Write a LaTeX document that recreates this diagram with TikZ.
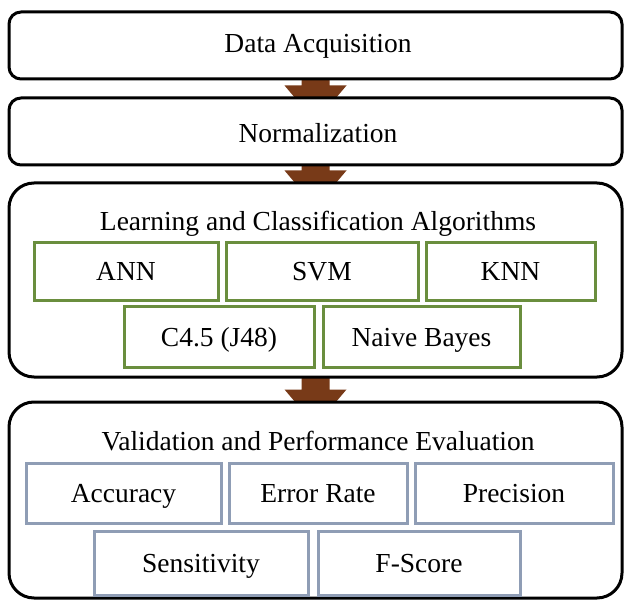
\documentclass[tikz,border=0pt]{standalone}
\usepackage{fontspec}
\setmainfont{Liberation Serif}
\usetikzlibrary{calc}
\pgfdeclarelayer{bg}
\pgfsetlayers{bg,main}
\definecolor{arrbrown}{RGB}{120,58,24}
\definecolor{algogreen}{RGB}{106,142,62}
\definecolor{evalgrey}{RGB}{143,157,181}
\tikzset{
  txt/.style={font=\fontsize{27.5}{30}\selectfont, text height=21pt, text depth=3pt},
  stage/.style={draw=black, line width=3pt, fill=white, rounded corners=#1, inner sep=0pt},
  algo/.style={txt, draw=algogreen, line width=3pt, fill=white, inner sep=0pt, minimum height=58pt},
  evalbox/.style={txt, draw=evalgrey, line width=3pt, fill=white, inner sep=0pt},
  lbl/.style={txt, inner sep=0pt},
  flowarrow/.style={fill=arrbrown, draw=none}
}
% unitless offsets follow the picture's axes (y grows downward)
\newcommand{\fatarrow}[2]{%
  \begin{pgfonlayer}{bg}
  \fill[flowarrow] ($(#1.south)+(-14,-2)$) -- ($(#2.north)+(-14,-11)$) -- ($(#2.north)+(-31,-11)$)
     -- ($(#2.north)+(-20,2)$) -- ($(#2.north)+(20,2)$) -- ($(#2.north)+(31,-11)$)
     -- ($(#2.north)+(14,-11)$) -- ($(#1.south)+(14,-2)$) -- cycle;
  \end{pgfonlayer}}
\begin{document}
\begin{tikzpicture}[x=1pt,y=-1pt]
\useasboundingbox (0,0) rectangle (626,601);
% stages
\node[stage=12pt, minimum width=613pt, minimum height=67pt] (da) at (315.5,45.5) {};
\node[stage=12pt, minimum width=613pt, minimum height=67pt] (nm) at (315.5,131.5) {};
\node[stage=25pt, minimum width=613pt, minimum height=194pt] (la) at (315.5,280) {};
\node[stage=25pt, minimum width=613pt, minimum height=196pt] (ve) at (315.5,500) {};
% titles
\node[lbl] (tda) at (318,44) {Data Acquisition};
\node[lbl] (tnm) at (318,134) {Normalization};
\node[lbl] (tla) at (318,222) {Learning and Classification Algorithms};
\node[lbl] (tve) at (318,441) {Validation and Performance Evaluation};
% algorithms
\node[algo, minimum width=184pt] (ann) at (126,272) {ANN};
\node[algo, minimum width=192pt] (svm) at (322,272) {SVM};
\node[algo, minimum width=169pt] (knn) at (510.5,272) {KNN};
\node[algo, minimum width=190pt, minimum height=60pt] (c45) at (219,337) {C4.5 (J48)};
\node[algo, minimum width=197pt, minimum height=60pt] (nb) at (421.5,337) {Naive Bayes};
% evaluation
\node[evalbox, minimum width=195pt, minimum height=60pt] (acc) at (123.5,493) {Accuracy};
\node[evalbox, minimum width=178pt, minimum height=60pt] (err) at (318,493) {Error Rate};
\node[evalbox, minimum width=198pt, minimum height=60pt] (pre) at (514,493) {Precision};
\node[evalbox, minimum width=214pt, minimum height=64pt] (sen) at (201,563) {Sensitivity};
\node[evalbox, minimum width=202pt, minimum height=64pt] (fsc) at (419,563) {F-Score};
% arrows
\fatarrow{da}{nm}
\fatarrow{nm}{la}
\fatarrow{la}{ve}
\end{tikzpicture}
\end{document}
